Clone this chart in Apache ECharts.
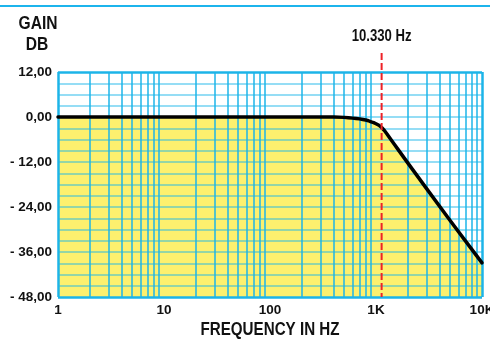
<!DOCTYPE html>
<html>
<head>
<meta charset="utf-8">
<script src="https://cdn.jsdelivr.net/npm/echarts@6/dist/echarts.min.js"></script>
<style>
  html, body { margin: 0; padding: 0; background: #ffffff; }
  #chart { width: 490px; height: 339px; }
</style>
</head>
<body>
<div id="chart"></div>
<script>
// Low-pass response: frequency (Hz) and gain (dB)
const freqHz = [1, 10, 100, 300, 400, 500, 550, 600, 650, 700, 750, 800, 850, 900, 950, 1000, 1065, 1130, 1200, 1275, 1350, 1500, 1600, 2000, 3000, 5000, 7000, 10000];
const gainDb = [0, 0, 0, 0, 0, -0.1, -0.2, -0.3, -0.4, -0.5, -0.65, -0.8, -1.0, -1.3, -1.5, -1.8, -2.2, -2.8, -3.6, -4.6, -5.6, -7.4, -8.5, -12.3, -19.1, -27.6, -33.1, -38.9];

// Axis tick labels
const xTickValues = [1, 10, 100, 1000, 10000];
const xTickLabels = ['1', '10', '100', '1K', '10K'];
const yTickValues = [12, 0, -12, -24, -36, -48];
const yTickLabels = ['12,00', '0,00', '- 12,00', '- 24,00', '- 36,00', '- 48,00'];

// Titles and cut-off marker
const yTitleLines = ['GAIN', 'DB'];
const xTitle = 'FREQUENCY IN HZ';
const cutoffHz = 1130;
const cutoffLabel = '10.330 Hz';

const FONT = "'Liberation Sans', Arial, sans-serif";
const NARROW = 0.82; // horizontal squeeze for the condensed headings
const CYAN = '#1cb4e8';
const CYAN_SOFT = 'rgba(28,180,232,0.62)';

const points = freqHz.map((f, i) => [f, gainDb[i]]);

// Log-paper grid: verticals at 1..9 x 10^k, horizontals every 3 dB
const gridLines = [];
for (let d = 1; d < 10000; d *= 10) {
  for (let m = 2; m <= 9; m++) {
    gridLines.push({ xAxis: m * d, lineStyle: { color: CYAN, width: 1.5, type: 'solid' } });
  }
}
for (let v = -45; v < 12; v += 3) {
  gridLines.push({ yAxis: v, lineStyle: { color: CYAN_SOFT, width: 1.5, type: 'solid' } });
}
// frame
[1, 10000].forEach(v => gridLines.push({ xAxis: v, lineStyle: { color: CYAN, width: 2.5, type: 'solid' } }));
[12, -48].forEach(v => gridLines.push({ yAxis: v, lineStyle: { color: CYAN, width: 2.5, type: 'solid' } }));

const chart = echarts.init(document.getElementById('chart'), null, { renderer: 'canvas' });

const labelStyle = { fontFamily: FONT, fontWeight: 'bold', fontSize: 13.5, color: '#111' };

chart.setOption({
  animation: false,
  backgroundColor: '#ffffff',
  grid: { left: 58, right: 8, top: 72, bottom: 42, containLabel: false, outerBoundsMode: 'none' },
  xAxis: {
    type: 'log',
    logBase: 10,
    min: 1,
    max: 10000,
    axisLine: { show: false },
    axisTick: { show: false },
    splitLine: { show: false },
    axisLabel: Object.assign({
      margin: 6,
      hideOverlap: false,
      showMaxLabel: true,
      formatter: v => {
        const i = xTickValues.findIndex(t => Math.abs(t - v) / t < 1e-6);
        return i >= 0 ? xTickLabels[i] : '';
      }
    }, labelStyle)
  },
  yAxis: {
    type: 'value',
    min: -48,
    max: 12,
    interval: 12,
    axisLine: { show: false },
    axisTick: { show: false },
    splitLine: { show: false },
    axisLabel: Object.assign({
      margin: 6,
      formatter: v => {
        const i = yTickValues.indexOf(v);
        return i >= 0 ? yTickLabels[i] : '';
      }
    }, labelStyle)
  },
  series: [
    {
      // yellow fill beneath the response
      type: 'line',
      data: points,
      z: 1,
      symbol: 'none',
      lineStyle: { width: 0 },
      areaStyle: { color: '#fdf06e', opacity: 1, origin: 'start' },
      silent: true,
      markLine: {
        silent: true,
        symbol: ['none', 'none'],
        label: { show: false },
        z: 3,
        animation: false,
        data: gridLines
      }
    },
    {
      // response curve
      type: 'line',
      data: points,
      z: 6,
      symbol: 'none',
      clip: false,
      lineStyle: { color: '#000000', width: 3.5, join: 'round', cap: 'round' }
    }
  ]
});

// Headings and the cut-off marker, placed through the axis scales
const cx = chart.convertToPixel({ xAxisIndex: 0 }, cutoffHz);
const yBottom = chart.convertToPixel({ yAxisIndex: 0 }, -48);
const xMid = (chart.convertToPixel({ xAxisIndex: 0 }, 1) + chart.convertToPixel({ xAxisIndex: 0 }, 10000)) / 2;

function heading(text, x, y, size) {
  return {
    type: 'text', x: x, y: y, scaleX: NARROW, z: 10,
    style: { text: text, font: 'bold ' + size + 'px ' + FONT, fill: '#111', align: 'center', verticalAlign: 'middle' }
  };
}

chart.setOption({
  graphic: [
    { type: 'rect', left: 0, top: 5, shape: { width: 490, height: 2 }, style: { fill: '#1cb4ec' }, z: 10 },
    heading(yTitleLines[0], 38, 24, 19),
    heading(yTitleLines[1], 37, 45, 19),
    heading(cutoffLabel, cx, 37, 16),
    heading(xTitle, xMid, 330, 18.5),
    {
      type: 'line', z: 20,
      shape: { x1: cx, y1: 53, x2: cx, y2: yBottom },
      style: { stroke: '#ee2228', lineWidth: 2, lineDash: [7, 3] }
    }
  ]
});
</script>
</body>
</html>
